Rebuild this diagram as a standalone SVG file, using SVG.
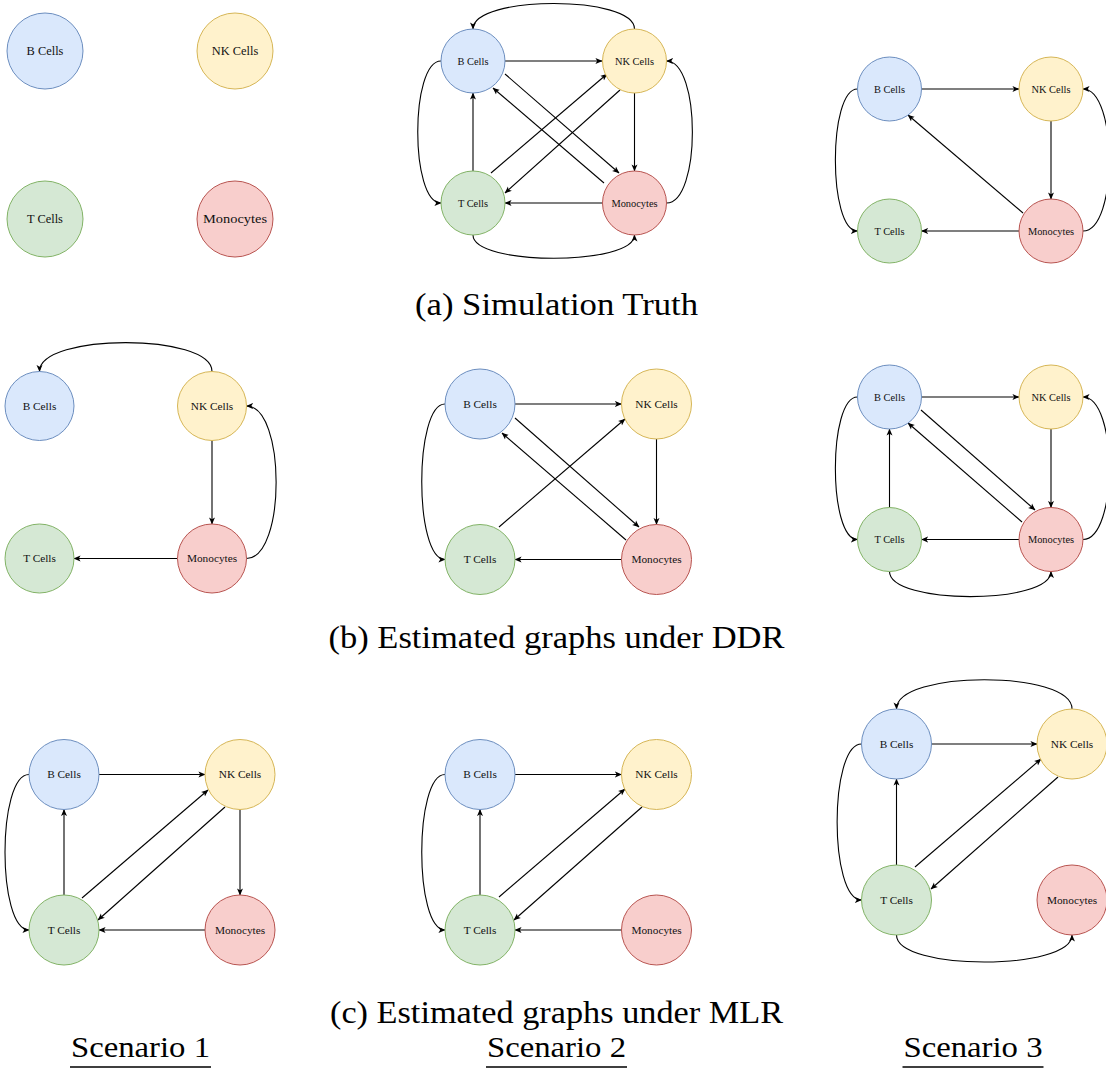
<svg xmlns="http://www.w3.org/2000/svg" width="1106" height="1068" viewBox="0 0 1106 1068">
<style>
.b{fill:#dae8fc;stroke:#6c8ebf;stroke-width:1}
.n{fill:#fff2cc;stroke:#d6b656;stroke-width:1}
.t{fill:#d5e8d4;stroke:#82b366;stroke-width:1}
.m{fill:#f8cecc;stroke:#b85450;stroke-width:1}
.lbl{font-family:"Liberation Serif","Times New Roman",serif;fill:#111;text-anchor:middle}
.s1{font-size:12.4px}.s2{font-size:10.4px}.s3{font-size:11.3px}
.e path{fill:none;stroke:#000;stroke-width:1.1;marker-end:url(#arr)}
.cap{font-family:"Liberation Serif","Times New Roman",serif;fill:#000;text-anchor:middle}
</style>
<defs>
<marker id="arr" viewBox="0 0 8 8" refX="7.5" refY="4" markerWidth="7" markerHeight="7" markerUnits="userSpaceOnUse" orient="auto">
<path d="M0,0.6 L8,4 L0,7.4 L2,4 z" fill="#000"/>
</marker>
</defs>
<rect width="1106" height="1068" fill="#fff"/>

<!-- connectors -->
<g id="connectors" class="e">
<!-- a2 -->
<path d="M634.5,29 C634.5,-5 473,-5 473,29"/>
<path d="M505,61 L602,61"/>
<path d="M441,61 C410,61 410,203 441,203"/>
<path d="M473,171 L473,93"/>
<path d="M505,74 L619,173"/>
<path d="M604,183 L493,88"/>
<path d="M491,173 L607,74"/>
<path d="M620,90 L505,193"/>
<path d="M634.5,93 L634.5,171"/>
<path d="M602,203 L505,203"/>
<path d="M666.5,203 C701,203 701,61 666.5,61"/>
<path d="M473,235 C473,266 634.5,266 634.5,235"/>
<!-- a3 -->
<path d="M921.5,89 L1019,89"/>
<path d="M857.5,89 C828,89 828,231 857.5,231"/>
<path d="M1051,121 L1051,199"/>
<path d="M1023,213 L908,115"/>
<path d="M1019,231 L921.5,231"/>
<path d="M1083,231 C1118,231 1118,89 1083,89"/>
<!-- b1 -->
<path d="M212,371.5 C212,333 39.5,333 39.5,371.5"/>
<path d="M212,440.5 L212,524"/>
<path d="M177.5,558.5 L74,558.5"/>
<path d="M246.5,558.5 C286,558.5 286,406 246.5,406"/>
<!-- b2 -->
<path d="M515,404 L621.5,404"/>
<path d="M445,404 C414,404 414,559.5 445,559.5"/>
<path d="M515,418 L639,527"/>
<path d="M626,540 L502,433"/>
<path d="M499,527 L625,419"/>
<path d="M656.5,439 L656.5,524.5"/>
<path d="M621.5,559.5 L515,559.5"/>
<!-- b3 -->
<path d="M921.5,397 L1019,397"/>
<path d="M857.5,397 C828,397 828,539.5 857.5,539.5"/>
<path d="M889.5,507.5 L889.5,429"/>
<path d="M921,410 L1035,510"/>
<path d="M1022,522 L908,423"/>
<path d="M1051,429 L1051,507.5"/>
<path d="M1019,539.5 L921.5,539.5"/>
<path d="M1083,539.5 C1118,539.5 1118,397 1083,397"/>
<path d="M889.5,571.5 C889.5,605 1051,605 1051,571.5"/>
<!-- c1 -->
<path d="M99,774.5 L205,774.5"/>
<path d="M29,774.5 C-3,774.5 -3,930 29,930"/>
<path d="M64,895 L64,809.5"/>
<path d="M82,898 L208,790"/>
<path d="M225,807 L98,920"/>
<path d="M240,809.5 L240,895"/>
<path d="M205,930 L99,930"/>
<!-- c2 -->
<path d="M515,774.5 L621.5,774.5"/>
<path d="M445,774.5 C414,774.5 414,930 445,930"/>
<path d="M480,895 L480,809.5"/>
<path d="M499,897 L625,789"/>
<path d="M642,807 L514,920"/>
<path d="M621.5,930 L515,930"/>
<!-- c3 -->
<path d="M1072,709 C1072,670 896.5,670 896.5,709"/>
<path d="M931.5,744 L1037,744"/>
<path d="M861.5,744 C829,744 829,900 861.5,900"/>
<path d="M896.5,865 L896.5,779"/>
<path d="M915,867 L1041,759"/>
<path d="M1058,777 L931,889"/>
<path d="M896.5,935 C896.5,971 1072,971 1072,935"/>
</g>

<!-- panel a1 -->
<g id="a1-b"><circle class="b" cx="45" cy="51" r="38"/><text class="lbl s1" x="45" y="55.2">B Cells</text></g>
<g id="a1-nk"><circle class="n" cx="235" cy="51" r="38"/><text class="lbl s1" x="235" y="55.2">NK Cells</text></g>
<g id="a1-t"><circle class="t" cx="45" cy="219" r="38"/><text class="lbl s1" x="45" y="223.2">T Cells</text></g>
<g id="a1-m"><circle class="m" cx="235" cy="219" r="38"/><text class="lbl s1" x="235" y="223.2" textLength="64" lengthAdjust="spacingAndGlyphs">Monocytes</text></g>

<!-- panel a2 -->
<g id="a2-b"><circle class="b" cx="473" cy="61" r="32"/><text class="lbl s2" x="473" y="64.5">B Cells</text></g>
<g id="a2-nk"><circle class="n" cx="634.5" cy="61" r="32"/><text class="lbl s2" x="634.5" y="64.5">NK Cells</text></g>
<g id="a2-t"><circle class="t" cx="473" cy="203" r="32"/><text class="lbl s2" x="473" y="206.5">T Cells</text></g>
<g id="a2-m"><circle class="m" cx="634.5" cy="203" r="32"/><text class="lbl s2" x="634.5" y="206.5">Monocytes</text></g>

<!-- panel a3 -->
<g id="a3-b"><circle class="b" cx="889.5" cy="89" r="32"/><text class="lbl s2" x="889.5" y="92.5">B Cells</text></g>
<g id="a3-nk"><circle class="n" cx="1051" cy="89" r="32"/><text class="lbl s2" x="1051" y="92.5">NK Cells</text></g>
<g id="a3-t"><circle class="t" cx="889.5" cy="231" r="32"/><text class="lbl s2" x="889.5" y="234.5">T Cells</text></g>
<g id="a3-m"><circle class="m" cx="1051" cy="231" r="32"/><text class="lbl s2" x="1051" y="234.5">Monocytes</text></g>

<!-- panel b1 -->
<g id="b1-b"><circle class="b" cx="39.5" cy="406" r="34.5"/><text class="lbl s3" x="39.5" y="409.8">B Cells</text></g>
<g id="b1-nk"><circle class="n" cx="212" cy="406" r="34.5"/><text class="lbl s3" x="212" y="409.8">NK Cells</text></g>
<g id="b1-t"><circle class="t" cx="39.5" cy="558.5" r="34.5"/><text class="lbl s3" x="39.5" y="562.3">T Cells</text></g>
<g id="b1-m"><circle class="m" cx="212" cy="558.5" r="34.5"/><text class="lbl s3" x="212" y="562.3">Monocytes</text></g>

<!-- panel b2 -->
<g id="b2-b"><circle class="b" cx="480" cy="404" r="35"/><text class="lbl s3" x="480" y="407.8">B Cells</text></g>
<g id="b2-nk"><circle class="n" cx="656.5" cy="404" r="35"/><text class="lbl s3" x="656.5" y="407.8">NK Cells</text></g>
<g id="b2-t"><circle class="t" cx="480" cy="559.5" r="35"/><text class="lbl s3" x="480" y="563.3">T Cells</text></g>
<g id="b2-m"><circle class="m" cx="656.5" cy="559.5" r="35"/><text class="lbl s3" x="656.5" y="563.3">Monocytes</text></g>

<!-- panel b3 -->
<g id="b3-b"><circle class="b" cx="889.5" cy="397" r="32"/><text class="lbl s2" x="889.5" y="400.5">B Cells</text></g>
<g id="b3-nk"><circle class="n" cx="1051" cy="397" r="32"/><text class="lbl s2" x="1051" y="400.5">NK Cells</text></g>
<g id="b3-t"><circle class="t" cx="889.5" cy="539.5" r="32"/><text class="lbl s2" x="889.5" y="543">T Cells</text></g>
<g id="b3-m"><circle class="m" cx="1051" cy="539.5" r="32"/><text class="lbl s2" x="1051" y="543">Monocytes</text></g>

<!-- panel c1 -->
<g id="c1-b"><circle class="b" cx="64" cy="774.5" r="35"/><text class="lbl s3" x="64" y="778.3">B Cells</text></g>
<g id="c1-nk"><circle class="n" cx="240" cy="774.5" r="35"/><text class="lbl s3" x="240" y="778.3">NK Cells</text></g>
<g id="c1-t"><circle class="t" cx="64" cy="930" r="35"/><text class="lbl s3" x="64" y="933.8">T Cells</text></g>
<g id="c1-m"><circle class="m" cx="240" cy="930" r="35"/><text class="lbl s3" x="240" y="933.8">Monocytes</text></g>

<!-- panel c2 -->
<g id="c2-b"><circle class="b" cx="480" cy="774.5" r="35"/><text class="lbl s3" x="480" y="778.3">B Cells</text></g>
<g id="c2-nk"><circle class="n" cx="656.5" cy="774.5" r="35"/><text class="lbl s3" x="656.5" y="778.3">NK Cells</text></g>
<g id="c2-t"><circle class="t" cx="480" cy="930" r="35"/><text class="lbl s3" x="480" y="933.8">T Cells</text></g>
<g id="c2-m"><circle class="m" cx="656.5" cy="930" r="35"/><text class="lbl s3" x="656.5" y="933.8">Monocytes</text></g>

<!-- panel c3 -->
<g id="c3-b"><circle class="b" cx="896.5" cy="744" r="35"/><text class="lbl s3" x="896.5" y="747.8">B Cells</text></g>
<g id="c3-nk"><circle class="n" cx="1072" cy="744" r="35"/><text class="lbl s3" x="1072" y="747.8">NK Cells</text></g>
<g id="c3-t"><circle class="t" cx="896.5" cy="900" r="35"/><text class="lbl s3" x="896.5" y="903.8">T Cells</text></g>
<g id="c3-m"><circle class="m" cx="1072" cy="900" r="35"/><text class="lbl s3" x="1072" y="903.8">Monocytes</text></g>

<!-- captions -->
<g id="captions">
<text class="cap" x="556.5" y="315" font-size="32" textLength="283" lengthAdjust="spacingAndGlyphs">(a) Simulation Truth</text>
<text class="cap" x="556.5" y="648" font-size="32" textLength="456" lengthAdjust="spacingAndGlyphs">(b) Estimated graphs under DDR</text>
<text class="cap" x="556.5" y="1023" font-size="32" textLength="453" lengthAdjust="spacingAndGlyphs">(c) Estimated graphs under MLR</text>
<text class="cap" x="140.5" y="1057" font-size="30" textLength="139" lengthAdjust="spacingAndGlyphs">Scenario 1</text>
<text class="cap" x="556.5" y="1057" font-size="30" textLength="139" lengthAdjust="spacingAndGlyphs">Scenario 2</text>
<text class="cap" x="973" y="1057" font-size="30" textLength="139" lengthAdjust="spacingAndGlyphs">Scenario 3</text>
<path d="M70,1067 H211 M486,1067 H627 M902.5,1067 H1043.5" stroke="#000" stroke-width="1.3" fill="none"/>
</g>
</svg>
